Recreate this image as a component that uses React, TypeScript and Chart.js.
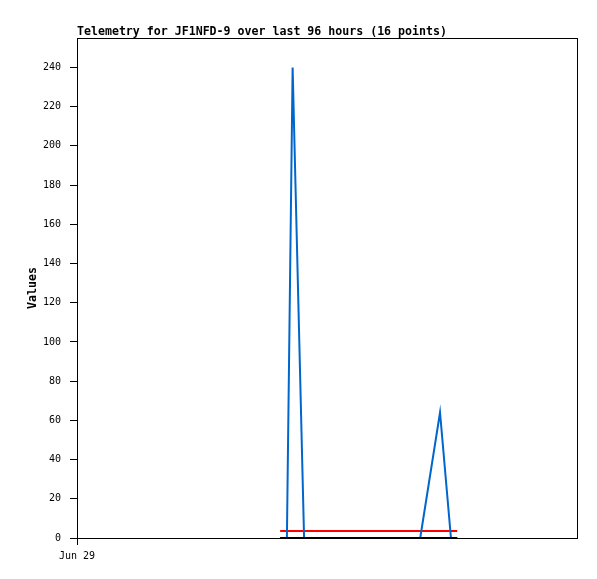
import React, { useEffect, useRef } from "react";
import { Chart, registerables } from "chart.js";

Chart.register(...registerables);

const hours = [39.0, 40.3, 41.4, 43.6, 46.0, 48.5, 51.0, 53.5, 56.0, 58.5, 61.0, 63.5, 65.9, 69.7, 71.8, 73.0];
const blueValues = [0, 0, 240, 0, 0, 0, 0, 0, 0, 0, 0, 0, 0, 64, 0, 0];
const redValues = [3.6, 3.6, 3.6, 3.6, 3.6, 3.6, 3.6, 3.6, 3.6, 3.6, 3.6, 3.6, 3.6, 3.6, 3.6, 3.6];
const blackValues = [0, 0, 0, 0, 0, 0, 0, 0, 0, 0, 0, 0, 0, 0, 0, 0];
const xTickLabels = [{ value: 0, label: "Jun 29" }];
const yTicks = [0, 20, 40, 60, 80, 100, 120, 140, 160, 180, 200, 220, 240];
const titleText = "Telemetry for JF1NFD-9 over last 96 hours (16 points)";
const yTitle = "Values";

const toPts = (vals: number[]) => vals.map((v, i) => ({ x: hours[i], y: v }));

export default function App() {
  const ref = useRef<HTMLCanvasElement | null>(null);
  useEffect(() => {
    if (!ref.current) return;
    const deco = {
      id: "deco",
      beforeDatasetsDraw(chart: any) {
        const { ctx, chartArea } = chart;
        ctx.save();
        ctx.strokeStyle = "#000";
        ctx.lineWidth = 1;
        ctx.strokeRect(chartArea.left + 0.5, chartArea.top + 0.5, chartArea.right - chartArea.left, chartArea.bottom - chartArea.top);
        ctx.restore();
      },
      afterDraw(chart: any) {
        const { ctx, chartArea } = chart;
        ctx.save();
        ctx.fillStyle = "#000";
        ctx.font = "bold 11.6px 'DejaVu Sans Mono'";
        ctx.textAlign = "left";
        ctx.textBaseline = "alphabetic";
        ctx.fillText(titleText, chartArea.left, 35);
        ctx.translate(33, (chartArea.top + chartArea.bottom) / 2);
        ctx.rotate(-Math.PI / 2);
        ctx.textAlign = "center";
        ctx.textBaseline = "middle";
        ctx.fillText(yTitle, 0, 0);
        ctx.restore();
      },
    };
    const tickFont = { family: "'DejaVu Sans Mono'", size: 10 };
    const chart = new Chart(ref.current, {
      type: "line",
      data: {
        datasets: [
          { data: toPts(blueValues), borderColor: "#0066cc", borderWidth: 2, pointRadius: 0, tension: 0, order: 2 },
          { data: toPts(redValues), borderColor: "#ff0000", borderWidth: 2, pointRadius: 0, tension: 0, order: 3 },
          { data: toPts(blackValues), borderColor: "#000000", borderWidth: 2, pointRadius: 0, tension: 0, order: 1 },
        ],
      },
      options: {
        animation: false,
        responsive: false,
        devicePixelRatio: 1,
        layout: { padding: { top: 38, right: 20, left: 0, bottom: 0 } },
        plugins: { legend: { display: false }, title: { display: false }, tooltip: { enabled: false } },
        scales: {
          x: {
            type: "linear",
            min: 0,
            max: 96,
            grid: { display: true, drawOnChartArea: false, tickLength: 7, color: "#000" },
            border: { display: false },
            ticks: {
              color: "#000",
              font: tickFont,
              padding: 5,
              maxRotation: 0,
              autoSkip: false,
              callback: (v: any) => {
                const t = xTickLabels.find((k) => k.value === v);
                return t ? t.label : "";
              },
            },
            afterBuildTicks: (s: any) => {
              s.ticks = xTickLabels.map((t) => ({ value: t.value }));
            },
            afterFit: (s: any) => {
              s.height = 41;
            },
          },
          y: {
            min: 0,
            max: 255,
            grid: { display: true, drawOnChartArea: false, tickLength: 7, color: "#000" },
            border: { display: false },
            ticks: { color: "#000", font: tickFont, padding: 9, stepSize: 20, autoSkip: false },
            afterBuildTicks: (s: any) => {
              s.ticks = yTicks.map((v) => ({ value: v }));
            },
            afterFit: (s: any) => {
              s.width = 77;
            },
          },
        },
      },
      plugins: [deco],
    } as any);
    return () => chart.destroy();
  }, []);
  return (
    <canvas
      ref={ref}
      width={597}
      height={579}
      style={{ position: "fixed", left: 0, top: 0, width: 597, height: 579, background: "#fff" }}
    />
  );
}
